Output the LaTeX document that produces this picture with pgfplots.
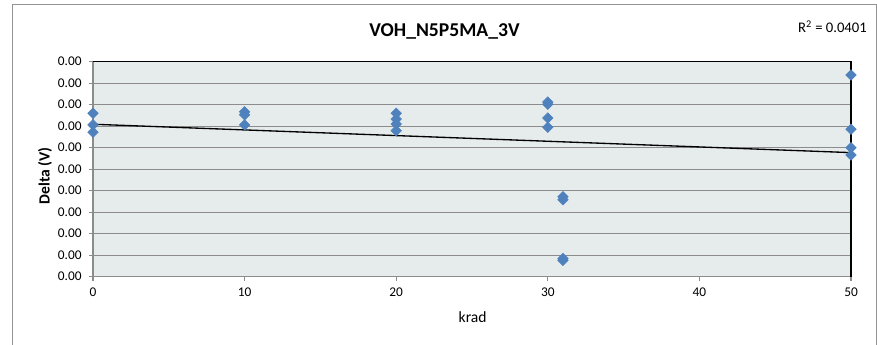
\documentclass[border=0pt]{standalone}
\usepackage{fontspec}
\setmainfont{Carlito}
\usepackage{pgfplots}
\pgfplotsset{compat=1.18}
\definecolor{plotbg}{RGB}{230,236,236}
\definecolor{gridc}{RGB}{140,140,140}
\definecolor{mblue}{RGB}{79,129,189}
\begin{document}
\begin{tikzpicture}[x=1pt,y=1pt]
\useasboundingbox (0,0) rectangle (657.75,258);
\draw[gray!85, line width=0.75pt] (9,-10) rectangle (657,255);
\begin{axis}[
  at={(69.75pt,50.5pt)}, anchor=south west,
  scale only axis, width=568.5pt, height=161.25pt,
  xmin=0, xmax=50, ymin=0, ymax=10,
  xtick={0,10,...,50}, ytick={0,1,...,10},
  yticklabel={0.00},
  tick pos=left,
  tick align=outside,
  major tick length=3pt,
  axis background/.style={fill=plotbg},
  ymajorgrids,
  grid style={gridc, line width=1pt},
  axis line style={gridc, line width=1pt},
  tick style={gridc, line width=0.8pt},
  ticklabel style={font=\fontsize{10}{12}\selectfont},
  yticklabel style={xshift=-2pt},
  xticklabel style={yshift=-2.2pt},
  /pgf/number format/assume math mode=true,
  clip=false,
]
\addplot[only marks, mark=square*, mark size=2.8pt,
  mark options={rotate=45, fill=mblue, draw=mblue}] table {
x y
0 7.60
0 7.06
0 6.72
10 7.67
10 7.53
10 7.06
20 7.60
20 7.33
20 7.10
20 6.79
30 8.12
30 8.02
30 7.38
30 6.95
31 3.72
31 3.58
31 0.84
31 0.76
50 9.38
50 6.86
50 6.00
50 5.66
};
\addplot[black, line width=1pt] coordinates {(0,7.09) (50,5.77)};
\draw[black, line width=1pt] (rel axis cs:0,1) -- (rel axis cs:1,1) -- (rel axis cs:1,0);
\end{axis}
\node[anchor=base, font=\bfseries\fontsize{14.7}{17}\selectfont] at (333.4,230.5) {VOH\_N5P5MA\_3V};
\node[anchor=base east, inner sep=0pt, font=\fontsize{11}{13}\selectfont] at (650.25,233.5) {R\textsuperscript{2} = 0.0401};
\node[anchor=base, font=\fontsize{11.7}{14}\selectfont] at (354.5,16) {krad};
\node[rotate=90, font=\bfseries\fontsize{11.7}{14}\selectfont] at (33.75,126) {Delta (V)};
\end{tikzpicture}
\end{document}
